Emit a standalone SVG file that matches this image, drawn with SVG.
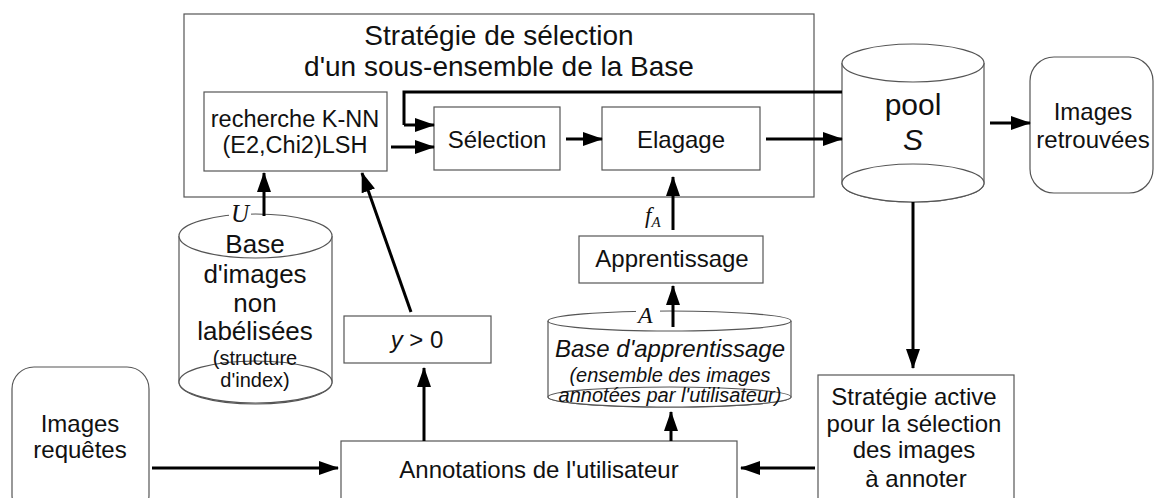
<svg xmlns="http://www.w3.org/2000/svg" width="1155" height="498" viewBox="0 0 1155 498">
  <style>
    .box { fill: #fff; stroke: #555; stroke-width: 1.2; }
    .cyl { fill: #fff; stroke: #555; stroke-width: 1.2; }
    .t { font-family: "Liberation Sans", Arial, sans-serif; fill: #111; text-anchor: middle; }
    .m { font-family: "Liberation Serif", "DejaVu Serif", serif; font-style: italic; fill: #111; }
    .arrow { fill: none; stroke: #000; stroke-width: 3; marker-end: url(#head); }
    .line { fill: none; stroke: #000; stroke-width: 3; }
  </style>
  <defs>
    <marker id="head" viewBox="0 0 20 14" markerWidth="20" markerHeight="14" refX="19" refY="7" orient="auto" markerUnits="userSpaceOnUse">
      <path d="M0,0 L20,7 L0,14 z" fill="#000"/>
    </marker>
  </defs>

  <rect width="1155" height="498" fill="#fff"/>

  <!-- selection strategy container -->
  <g id="strategie-selection">
    <rect class="box" x="184" y="14" width="630" height="183"/>
    <text class="t" x="499" y="45" font-size="28">Stratégie de sélection</text>
    <text class="t" x="499" y="76" font-size="28">d'un sous-ensemble de la Base</text>
  </g>

  <g id="knn">
    <rect class="box" x="204" y="92" width="183" height="79"/>
    <text class="t" x="295" y="127" font-size="23.5">recherche K-NN</text>
    <text class="t" x="295" y="153" font-size="23.5">(E2,Chi2)LSH</text>
  </g>

  <g id="selection">
    <rect class="box" x="434" y="107" width="126" height="63"/>
    <text class="t" x="497" y="148" font-size="24">Sélection</text>
  </g>

  <g id="elagage">
    <rect class="box" x="602" y="107" width="158" height="63"/>
    <text class="t" x="681" y="148" font-size="24">Elagage</text>
  </g>

  <!-- pool S -->
  <g id="pool">
    <path class="cyl" d="M842,63 V183 A71,19 0 0 0 984,183 V63"/>
    <ellipse class="cyl" cx="913" cy="63" rx="71" ry="19"/>
    <ellipse class="cyl" cx="913" cy="183" rx="71" ry="19" fill="none"/>
    <text class="t" x="913" y="115" font-size="30">pool</text>
    <text class="t" x="913" y="150" font-size="30" font-style="italic">S</text>
  </g>

  <g id="images-retrouvees">
    <rect class="box" x="1030" y="57" width="123" height="136" rx="24" ry="24"/>
    <text class="t" x="1093" y="120" font-size="24">Images</text>
    <text class="t" x="1093" y="148" font-size="24">retrouvées</text>
  </g>

  <!-- unlabelled image base -->
  <g id="base-images">
    <path class="cyl" d="M179,236 V382 A76.5,22 0 0 0 332,382 V236"/>
    <ellipse class="cyl" cx="255.5" cy="236" rx="76.5" ry="22"/>
    <ellipse class="cyl" cx="255.5" cy="382" rx="76.5" ry="21" fill="none"/>
    <text class="t" x="255" y="253" font-size="26">Base</text>
    <text class="t" x="255" y="283" font-size="26">d'images</text>
    <text class="t" x="255" y="312" font-size="26">non</text>
    <text class="t" x="255" y="340" font-size="26">labélisées</text>
    <text class="t" x="255" y="365" font-size="20">(structure</text>
    <text class="t" x="255" y="387" font-size="20">d'index)</text>
  </g>

  <g id="y-positif">
    <rect class="box" x="344" y="316" width="147" height="47"/>
    <text class="t" x="417" y="348" font-size="24"><tspan font-style="italic">y</tspan> &gt; 0</text>
  </g>

  <g id="apprentissage">
    <rect class="box" x="579" y="236" width="184" height="47"/>
    <text class="t" x="672" y="267" font-size="24">Apprentissage</text>
  </g>

  <!-- training base -->
  <g id="base-apprentissage">
    <path class="cyl" d="M548,321 V397 A121.5,10 0 0 0 791,397 V321"/>
    <ellipse class="cyl" cx="669.5" cy="321" rx="121.5" ry="10"/>
    <ellipse class="cyl" cx="669.5" cy="397" rx="121.5" ry="10" fill="none"/>
    <text class="t" x="670" y="357" font-size="24" font-style="italic">Base d'apprentissage</text>
    <text class="t" x="670" y="382" font-size="20" font-style="italic">(ensemble des images</text>
    <text class="t" x="670" y="402" font-size="20" font-style="italic">annotées par l'utilisateur)</text>
  </g>

  <g id="images-requetes">
    <rect class="box" x="12" y="367" width="137" height="150" rx="22" ry="22"/>
    <text class="t" x="80" y="432" font-size="24">Images</text>
    <text class="t" x="80" y="458" font-size="24">requêtes</text>
  </g>

  <g id="annotations">
    <rect class="box" x="341" y="441" width="396" height="80"/>
    <text class="t" x="539" y="478" font-size="24">Annotations de l'utilisateur</text>
  </g>

  <g id="strategie-active">
    <rect class="box" x="818" y="375" width="196" height="140"/>
    <text class="t" x="914" y="405" font-size="24">Stratégie active</text>
    <text class="t" x="914" y="432" font-size="24">pour la sélection</text>
    <text class="t" x="914" y="458" font-size="24">des images</text>
    <text class="t" x="916" y="487" font-size="24">à annoter</text>
  </g>

  <!-- set labels (drawn before the arrows so the shafts stay on top) -->
  <g id="labels">
    <rect x="229" y="208" width="22" height="14" fill="#fff"/>
    <text class="m" x="231" y="222" font-size="25">U</text>
    <rect x="636" y="309" width="24" height="14" fill="#fff"/>
    <text class="m" x="638" y="323" font-size="24">A</text>
    <text class="m" x="645" y="223" font-size="23">f<tspan font-size="15" dy="4">A</tspan></text>
  </g>

  <!-- connectors -->
  <g id="connecteurs">
    <path class="line" d="M842,92 H404 V125"/>
    <path class="arrow" d="M404,125 H434"/>
    <path class="arrow" d="M391,147 H434"/>
    <path class="arrow" d="M566,139 H602"/>
    <path class="arrow" d="M766,139 H842"/>
    <path class="arrow" d="M990,123 H1030"/>
    <path class="arrow" d="M913,202 V368"/>
    <path class="arrow" d="M815,468 H741"/>
    <path class="arrow" d="M152,468 H338"/>
    <path class="arrow" d="M424,441 V368"/>
    <path class="arrow" d="M671,441 V412"/>
    <path class="arrow" d="M673,327 V286"/>
    <path class="arrow" d="M673,230 V177"/>
    <path class="arrow" d="M411,312 L362,173"/>
    <path class="arrow" d="M264,216 V173"/>
  </g>
</svg>
